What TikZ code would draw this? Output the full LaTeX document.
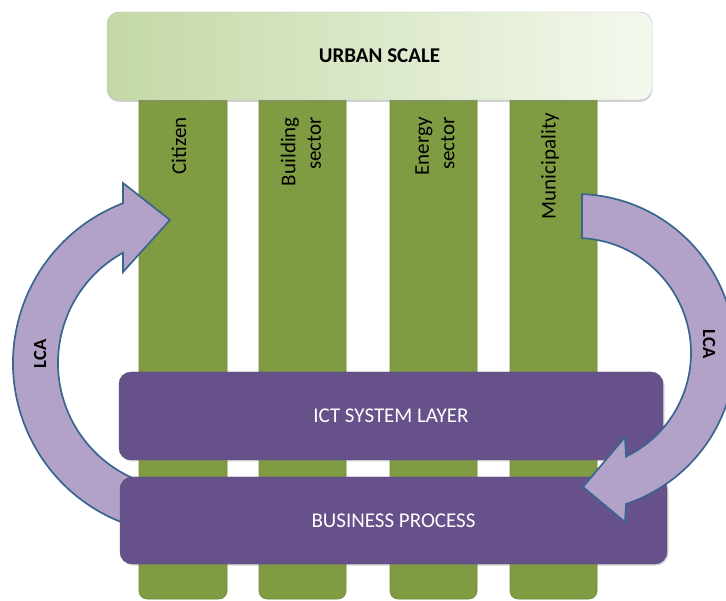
\documentclass[tikz,border=0pt]{standalone}
\usepackage{fontspec}
\setmainfont{Carlito}
\usetikzlibrary{positioning,calc,shadows}

\definecolor{pillargreen}{HTML}{7F9C42}
\definecolor{pillaredge}{HTML}{6E8937}
\definecolor{layerpurple}{HTML}{67518A}
\definecolor{arrowlilac}{HTML}{B2A2C7}
\definecolor{arrowedge}{HTML}{3A6590}
\definecolor{urbanleft}{HTML}{C4D8A5}
\definecolor{urbanright}{HTML}{F4F9EE}

\tikzset{
    urbanbox/.style={rounded corners=12pt, draw=black!25, left color=urbanleft, right color=urbanright,
        minimum width=545pt, minimum height=88pt, font=\fontsize{21}{25}\selectfont\bfseries,
        drop shadow={opacity=0.35, shadow xshift=0pt, shadow yshift=-2pt}},
    pillar/.style={fill=pillargreen, draw=pillaredge, line width=0.6pt},
    pillartext/.style={rotate=90, anchor=east, inner sep=0pt, align=right,
        font=\fontsize{21}{25.5}\selectfont},
    layer/.style={rounded corners=12pt, fill=layerpurple, draw=layerpurple!85!black, text=white,
        font=\fontsize{21}{25}\selectfont,
        drop shadow={opacity=0.3, shadow xshift=1.5pt, shadow yshift=-1.5pt}},
    lcaarrow/.style={fill=arrowlilac, draw=arrowedge, line width=1.7pt, line join=miter},
    lcatext/.style={font=\fontsize{18.5}{20}\selectfont\bfseries, inner sep=0pt}
}

\begin{document}
\begin{tikzpicture}[x=1pt,y=1pt]
    \clip (0,0) rectangle (726,-601);
    \fill[white] (0,0) rectangle (726,-601);
    %Pillars
    \draw[pillar] (139,-95) [rounded corners=8pt] -- (139,-599) -- (227,-599) [sharp corners] -- (227,-95) -- cycle;
    \draw[pillar] (259,-95) [rounded corners=8pt] -- (259,-599) -- (346,-599) [sharp corners] -- (346,-95) -- cycle;
    \draw[pillar] (390,-95) [rounded corners=8pt] -- (390,-599) -- (477,-599) [sharp corners] -- (477,-95) -- cycle;
    \draw[pillar] (510,-95) [rounded corners=8pt] -- (510,-599) -- (597,-599) [sharp corners] -- (597,-95) -- cycle;
    \node[pillartext] (citizen) at (179,-117) {Citizen};
    \node[pillartext] (building) at (301,-117) {Building\\sector};
    \node[pillartext] (energy) at (435,-117) {Energy\\sector};
    \node[pillartext] (municipality) at (550,-113) {Municipality};
    %Urban scale
    \node[urbanbox] (urban) at (379.5,-56) {URBAN SCALE};
    %LCA left
    \coordinate (lcenter) at (184,-363);
    \filldraw[lcaarrow] ($(lcenter)+(255:171)$) arc[start angle=255, end angle=110.9, radius=171]
        -- (123,-183) -- (170,-220) -- (123,-272)
        -- ($(lcenter)+(118.95:126)$) arc[start angle=118.95, end angle=255, radius=126] -- cycle;
    \node[lcatext, rotate=90] (lcaleft) at (40,-354) {LCA};
    %Layers
    \node[layer, minimum width=544pt, minimum height=88pt] (ict) at (391,-416) {ICT SYSTEM LAYER};
    \node[layer, minimum width=547pt, minimum height=87pt] (business) at (393.5,-520.5) {BUSINESS PROCESS};
    %LCA right
    \coordinate (rcenter) at (576,-353);
    \filldraw[lcaarrow] ($(rcenter)+(87.84:159)$) arc[start angle=87.84, end angle=-71.67, radius=159]
        -- (625,-522) -- (583,-487) -- (625,-437)
        -- ($(rcenter)+(-64.23:115)$) arc[start angle=-64.23, end angle=87.0, radius=115] -- cycle;
    \node[lcatext, rotate=-90] (lcaright) at (709,-344) {LCA};
\end{tikzpicture}
\end{document}
